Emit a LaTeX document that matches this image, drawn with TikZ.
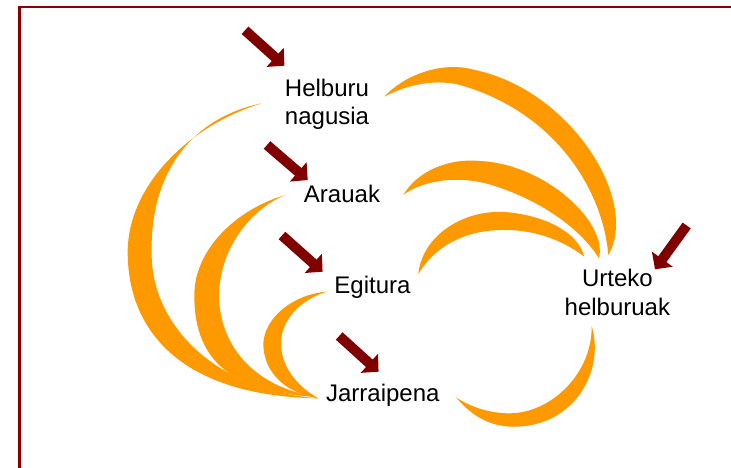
\documentclass[tikz,border=0pt]{standalone}
\usepackage{fontspec}
\setmainfont{Liberation Sans}
\usetikzlibrary{arrows.meta}
\definecolor{arcorange}{HTML}{FF9900}
\definecolor{arrowred}{HTML}{800000}
\definecolor{framered}{HTML}{8B0000}
\begin{document}
\begin{tikzpicture}[x=1pt,y=-1pt,
  lbl/.style={font=\fontsize{24}{28.5}\selectfont, inner sep=0pt, align=center, anchor=base},
  crescent/.style={fill=arcorange, draw=none},
  bigarrow/.style={draw=arrowred, line width=10pt, -{Triangle[width=25pt,length=12.5pt]}},
  frameline/.style={draw=framered, line width=2.5pt}]
\useasboundingbox (0,0) rectangle (731,467);
% frame
\draw[frameline] (19.5,480) -- (19.5,7) -- (745,7);
% labels (base = baseline of last line)
\node[lbl] (helburu) at (327,124.5) {Helburu\\nagusia};
\node[lbl] (arauak) at (342,202.7) {Arauak};
\node[lbl] (egitura) at (372.5,293.3) {Egitura};
\node[lbl] (jarraipena) at (382.8,401.7) {Jarraipena};
\node[lbl] (urteko) at (617.4,315) {Urteko\\helburuak};
% crescents, upper right (A, B, C)
\fill[crescent] (384.3,96.7) .. controls (402,77) and (440,60) .. (475,70)
  .. controls (570,90) and (640,200) .. (608.3,255)
  .. controls (603,190) and (555,112) .. (460,85)
  .. controls (430,77.5) and (400,88) .. (384.3,96.7) -- cycle;
\fill[crescent] (403.3,195) .. controls (418,170) and (450,158) .. (480,161)
  .. controls (545,164) and (608,222) .. (599,258.3)
  .. controls (580,228) and (540,200) .. (491.7,185)
  .. controls (455,174) and (420,182) .. (403.3,195) -- cycle;
\fill[crescent] (418.3,274.3) .. controls (422,235) and (465,208) .. (508.3,212.3)
  .. controls (545,216) and (578,232) .. (584.3,256.7)
  .. controls (560,238) and (530,229) .. (500,230)
  .. controls (460,231) and (432,250) .. (418.3,274.3) -- cycle;
% crescents, left (D, E, F)
\fill[crescent] (261.7,103.3) .. controls (190,125) and (128,185) .. (127.7,251.7)
  .. controls (127.5,330) and (180,396) .. (318.3,398.3)
  .. controls (210,390) and (150,320) .. (151.7,251.7)
  .. controls (150,175) and (190,118) .. (261.7,103.3) -- cycle;
\fill[crescent] (285,195) .. controls (235,210) and (194.5,250) .. (194.3,295)
  .. controls (194.1,355) and (225,392) .. (315,396.7)
  .. controls (248,385) and (219,340) .. (219,295)
  .. controls (220,248) and (250,210) .. (285,195) -- cycle;
\fill[crescent] (326.7,291.7) .. controls (295,294) and (265,316) .. (263.3,343.3)
  .. controls (263.3,372) and (285,393) .. (318.3,398.3)
  .. controls (295,385) and (281,365) .. (281,343.3)
  .. controls (281,320) and (300,300) .. (326.7,291.7) -- cycle;
% crescent, lower right (G)
\fill[crescent] (456,397.3) .. controls (475,420) and (495,427) .. (515,426.7)
  .. controls (575,426) and (605,370) .. (591.7,326)
  .. controls (592,375) and (550,413) .. (510,413.3)
  .. controls (490,413.5) and (470,407) .. (456,397.3) -- cycle;
% arrows
\coordinate (a1s) at (245,30.3);   \coordinate (a1e) at (284.4,65.7);
\coordinate (a2s) at (267,145);    \coordinate (a2e) at (307.7,180);
\coordinate (a3s) at (282,235.5);  \coordinate (a3e) at (322.6,271.7);
\coordinate (a4s) at (339.2,336);  \coordinate (a4e) at (378.6,371.7);
\coordinate (a5s) at (686.7,225.5); \coordinate (a5e) at (655,269.3);
\draw[bigarrow] (a1s) -- (a1e);
\draw[bigarrow] (a2s) -- (a2e);
\draw[bigarrow] (a3s) -- (a3e);
\draw[bigarrow] (a4s) -- (a4e);
\draw[bigarrow] (a5s) -- (a5e);
\end{tikzpicture}
\end{document}
